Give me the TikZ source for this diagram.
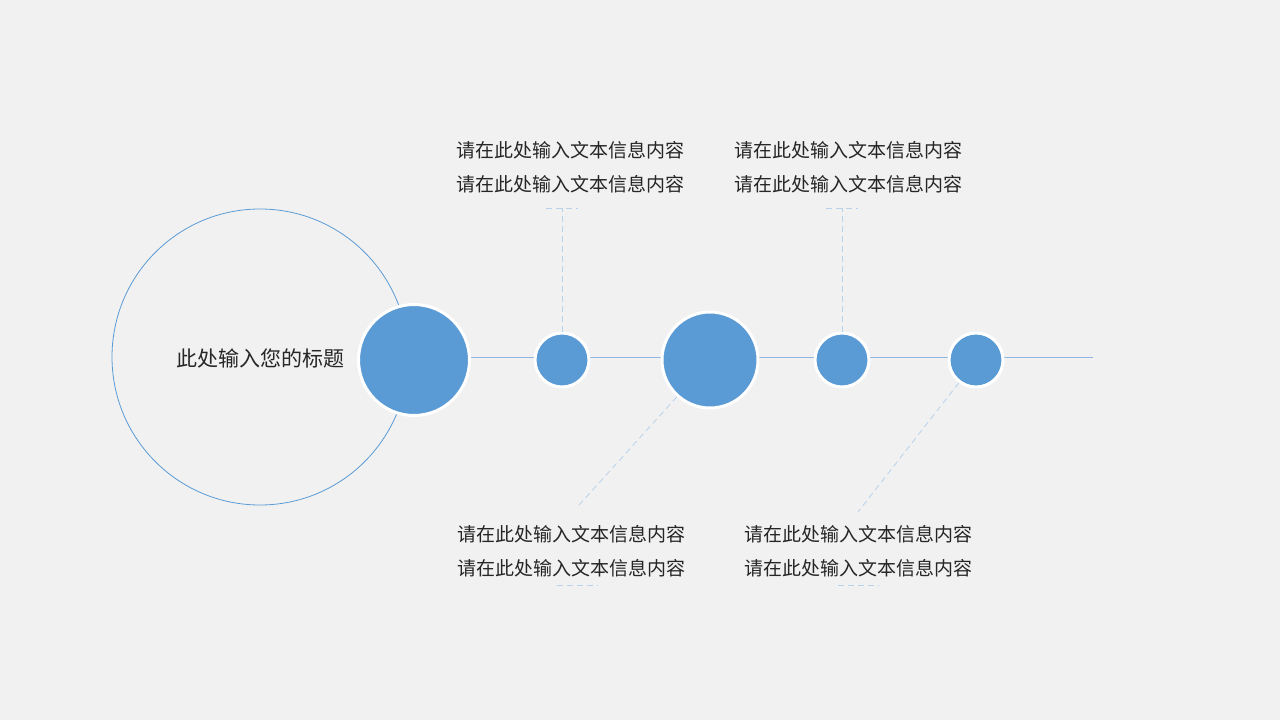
\documentclass[tikz,border=0pt]{standalone}
\usepackage{fontspec}
\setmainfont{Noto Sans CJK SC}
\definecolor{dotblue}{HTML}{5B9BD5}
\definecolor{linkblue}{HTML}{8DB6E2}
\definecolor{dashblue}{HTML}{B8D2EC}
\definecolor{bggray}{HTML}{F1F1F1}
\definecolor{txtgray}{HTML}{262626}

\begin{document}
\begin{tikzpicture}[x=1pt,y=-1pt,
  dot/.style={circle,fill=dotblue,draw=white,line width=3pt,inner sep=0pt},
  info/.style={align=center,text=txtgray,font=\fontsize{19}{34}\selectfont},
  guide/.style={draw=dashblue,dashed,dash pattern=on 6pt off 4pt,line width=0.8pt}]

\fill[bggray] (0,0) rectangle (1280,720);
\useasboundingbox (0,0) rectangle (1280,720);

% title ring
\coordinate (ring) at (260,357);
\draw[dotblue,line width=0.8pt] (ring) circle (148);
\node[text=txtgray,font=\fontsize{21}{24}\selectfont] (title) at (260,358) {此处输入您的标题};

% time line
\coordinate (lend) at (1093,357);
\draw[linkblue,line width=0.9pt] (414,357) -- (lend);

\node[dot,minimum size=111] (c1) at (414,360) {};
\node[dot,minimum size=54] (c2) at (562,360) {};
\node[dot,minimum size=96] (c3) at (710,360) {};
\node[dot,minimum size=54] (c4) at (842,360) {};
\node[dot,minimum size=54] (c5) at (976,360) {};

% guides
\coordinate (t1) at (562,208);
\coordinate (t2) at (842,208);
\coordinate (b1) at (579,505);
\coordinate (b2) at (858,512);
\path[guide] (c2.north) -- (t1);
\path[guide] (546,208) -- (578,208);
\path[guide] (c4.north) -- (t2);
\path[guide] (826,208) -- (858,208);
\path[guide] (c3.-132) -- (b1);
\path[guide] (557,585) -- (598,585);
\path[guide] (c5.-127) -- (b2);
\path[guide] (838,585) -- (879,585);

% texts
\node[info] (i1) at (570,167) {请在此处输入文本信息内容\\请在此处输入文本信息内容};
\node[info] (i2) at (848,167) {请在此处输入文本信息内容\\请在此处输入文本信息内容};
\node[info] (i3) at (571,551) {请在此处输入文本信息内容\\请在此处输入文本信息内容};
\node[info] (i4) at (858,551) {请在此处输入文本信息内容\\请在此处输入文本信息内容};

\end{tikzpicture}
\end{document}
